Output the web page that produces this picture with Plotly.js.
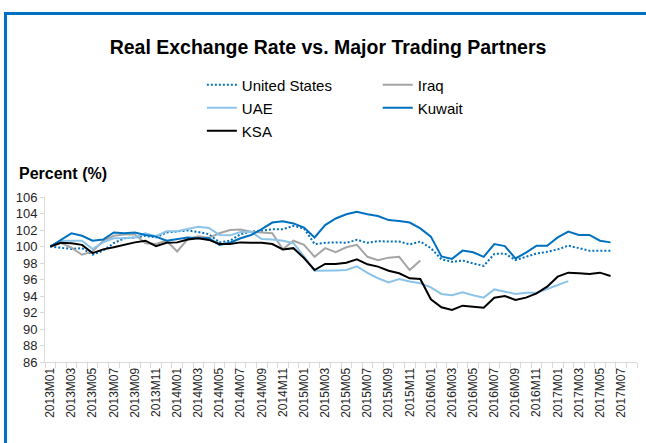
<!DOCTYPE html>
<html>
<head>
<meta charset="utf-8">
<script src="https://cdn.plot.ly/plotly-3.0.1.min.js"></script>
<style>
html,body{margin:0;padding:0;background:#fff;}
#chart{width:646px;height:443px;}
</style>
</head>
<body>
<div id="chart"></div>
<script>
const months = ["2013M01","2013M02","2013M03","2013M04","2013M05","2013M06","2013M07","2013M08","2013M09","2013M10","2013M11","2013M12",
"2014M01","2014M02","2014M03","2014M04","2014M05","2014M06","2014M07","2014M08","2014M09","2014M10","2014M11","2014M12",
"2015M01","2015M02","2015M03","2015M04","2015M05","2015M06","2015M07","2015M08","2015M09","2015M10","2015M11","2015M12",
"2016M01","2016M02","2016M03","2016M04","2016M05","2016M06","2016M07","2016M08","2016M09","2016M10","2016M11","2016M12",
"2017M01","2017M02","2017M03","2017M04","2017M05","2017M06","2017M07","2017M08"];
const tickLabels = ["2013M01","","2013M03","","2013M05","","2013M07","","2013M09","","2013M11","",
"2014M01","","2014M03","","2014M05","","2014M07","","2014M09","","2014M11","",
"2015M01","","2015M03","","2015M05","","2015M07","","2015M09","","2015M11","",
"2016M01","","2016M03","","2016M05","","2016M07","","2016M09","","2016M11","",
"2017M01","","2017M03","","2017M05","","2017M07",""];

const unitedStates = [100.0,99.85,99.7,99.8,99.0,99.5,100.4,101.0,101.1,101.3,101.1,101.7,101.85,101.95,101.75,101.5,100.5,100.7,
101.5,101.8,101.9,102.1,102.1,102.5,102.2,100.3,100.45,100.5,100.45,100.8,100.45,100.65,100.6,100.6,100.25,100.6,
99.8,98.45,98.15,98.3,97.95,97.65,99.1,99.15,98.35,98.75,99.15,99.35,99.65,100.1,99.8,99.5,99.5,99.5];
const iraq = [100.0,100.45,99.85,99.0,99.4,100.7,101.3,101.45,101.45,100.4,100.3,100.7,99.4,100.9,101.25,101.05,101.6,102.0,
102.05,101.8,101.7,101.6,99.65,100.7,100.2,98.75,99.8,99.3,99.9,100.2,98.75,98.35,98.65,98.75,97.15,98.3];
const uae = [100.0,100.7,100.7,100.7,99.7,100.5,101.0,101.0,101.1,101.6,101.25,101.85,101.85,102.15,102.4,102.25,101.4,101.35,
101.75,101.8,100.9,100.85,100.7,100.4,98.8,97.05,97.05,97.1,97.15,97.6,96.8,96.15,95.65,96.05,95.75,95.55,
95.05,94.25,94.1,94.45,94.1,93.8,94.8,94.5,94.25,94.4,94.4,94.85,95.35,95.8];
const kuwait = [100.0,100.8,101.6,101.3,100.7,100.85,101.7,101.6,101.7,101.4,101.2,100.7,100.9,101.1,101.0,101.0,100.2,100.45,
101.0,101.4,102.1,102.9,103.05,102.8,102.3,101.1,102.6,103.4,103.9,104.2,103.9,103.7,103.2,103.1,102.9,102.2,
101.2,98.8,98.5,99.5,99.3,98.75,100.3,100.05,98.55,99.25,100.1,100.1,101.1,101.8,101.4,101.4,100.7,100.5];
const ksa = [100.0,100.45,100.4,100.2,99.2,99.65,99.9,100.2,100.5,100.7,100.05,100.45,100.5,100.85,101.0,100.8,100.3,100.3,
100.5,100.45,100.45,100.3,99.65,99.8,98.6,97.15,97.88,97.88,98.04,98.44,97.84,97.56,97.07,96.75,96.14,96.06,
93.6,92.63,92.3,92.83,92.71,92.59,93.8,94.0,93.52,93.8,94.32,95.13,96.34,96.83,96.75,96.67,96.83,96.42];

const FONT = "'Liberation Sans','Arial',sans-serif";
const W = 646, H = 443;
const L = 45, R = 8.5, T = 197, B = 81;
const PW = W - L - R, PH = H - T - B;
const px = x => (x - L) / PW;
const py = y => (H - B - y) / PH;

function tr(name, vals, color, dash, legendId) {
  return {
    type: 'scatter', mode: 'lines', name: name,
    x: months.slice(0, vals.length), y: vals,
    line: {color: color, width: 2, dash: dash},
    legend: legendId, showlegend: true, hoverinfo: 'skip'
  };
}
const traces = [
  tr('United States', unitedStates, '#0070C0', '2px,2px', 'legend'),
  tr('Iraq', iraq, '#A5A5A5', 'solid', 'legend2'),
  tr('UAE', uae, '#8CC3E9', 'solid', 'legend3'),
  tr('Kuwait', kuwait, '#0070C0', 'solid', 'legend4'),
  tr('KSA', ksa, '#000000', 'solid', 'legend5')
];

function lg(xPx, yPx) {
  return {x: px(xPx), y: py(yPx), xanchor: 'left', yanchor: 'middle', xref: 'paper', yref: 'paper',
    bgcolor: 'rgba(0,0,0,0)', borderwidth: 0, font: {family: FONT, size: 15, color: '#000'}};
}

const layout = {
  width: W, height: H,
  margin: {l: L, r: R, t: T, b: B, pad: 0},
  paper_bgcolor: '#fff', plot_bgcolor: '#fff',
  showlegend: true,
  title: {text: '<b>Real Exchange Rate vs. Major Trading Partners</b>', font: {family: FONT, size: 19.5, color: '#000'},
    x: 328 / W, xanchor: 'center', xref: 'container', y: 1 - 47 / H, yanchor: 'middle', yref: 'container'},
  legend: lg(202, 85),
  legend2: lg(378, 85),
  legend3: lg(202, 108),
  legend4: lg(378, 108),
  legend5: lg(202, 131),
  xaxis: {
    type: 'category', categoryorder: 'array', categoryarray: months,
    range: [-0.5, months.length - 0.5],
    tickmode: 'array', tickvals: months, ticktext: tickLabels,
    tickson: 'boundaries', ticks: 'outside', ticklen: 5, tickcolor: '#D9D9D9', tickwidth: 1,
    tickangle: -90, tickfont: {family: FONT, size: 12, color: '#262626'},
    showline: true, linecolor: '#D9D9D9', linewidth: 1, showgrid: false, zeroline: false, fixedrange: true
  },
  yaxis: {
    range: [86, 106], tickmode: 'linear', tick0: 86, dtick: 2,
    ticks: 'outside', ticklen: 4, tickcolor: '#D9D9D9', tickwidth: 1,
    tickfont: {family: FONT, size: 13, color: '#262626'},
    showline: true, linecolor: '#D9D9D9', linewidth: 1, showgrid: false, zeroline: false, fixedrange: true
  },
  annotations: [{
    text: '<b>Percent (%)</b>', xref: 'paper', yref: 'paper', x: px(17), y: py(173),
    xanchor: 'left', yanchor: 'middle', showarrow: false, font: {family: FONT, size: 16, color: '#000'}
  }],
  shapes: [
    {type: 'line', xref: 'paper', yref: 'paper', x0: px(5.5), x1: px(5.5), y0: py(12), y1: py(H + 5), line: {color: '#0070C0', width: 3}},
    {type: 'line', xref: 'paper', yref: 'paper', x0: px(4), x1: px(W + 5), y0: py(13.5), y1: py(13.5), line: {color: '#0070C0', width: 3}}
  ]
};

Plotly.newPlot('chart', traces, layout, {staticPlot: true, displayModeBar: false});
</script>
</body>
</html>
